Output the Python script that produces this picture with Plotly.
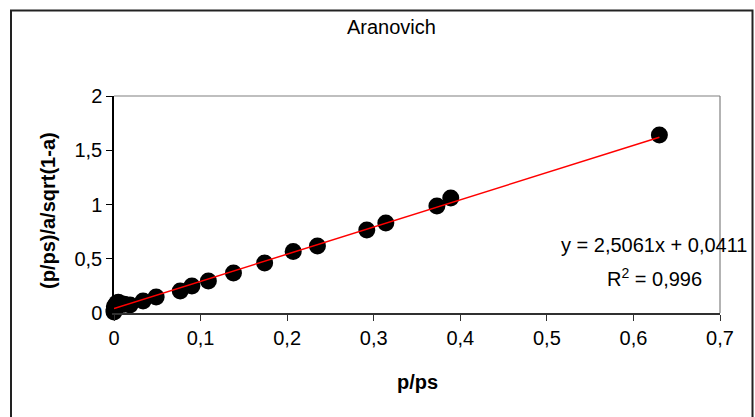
import plotly.graph_objects as go

# Measured points: relative pressure vs linearised Aranovich term
p_ps = [0.0, 0.0, 0.0005, 0.001, 0.002, 0.003, 0.004, 0.005, 0.008, 0.012,
        0.0185, 0.0336, 0.0487, 0.0765, 0.090, 0.109, 0.138, 0.174, 0.207,
        0.235, 0.292, 0.314, 0.373, 0.389, 0.630]
aranovich = [0.01, 0.03, 0.06, 0.05, 0.07, 0.09, 0.06, 0.10, 0.085, 0.08,
             0.074, 0.11, 0.147, 0.203, 0.249, 0.295, 0.369, 0.461, 0.567,
             0.617, 0.765, 0.829, 0.986, 1.06, 1.64]

# Linear trend line parameters
slope = 2.5061
intercept = 0.0411
r_squared = 0.996

x_ticks = [0, 0.1, 0.2, 0.3, 0.4, 0.5, 0.6, 0.7]
y_ticks = [0, 0.5, 1, 1.5, 2]

FONT = "Liberation Sans, Arial, sans-serif"

trend_x = [min(p_ps), max(p_ps)]
trend_y = [slope * v + intercept for v in trend_x]

fig = go.Figure()
fig.add_trace(go.Scatter(
    x=p_ps, y=aranovich, mode="markers",
    marker=dict(color="black", size=17, line=dict(width=0)),
    cliponaxis=False, showlegend=False,
))
fig.add_trace(go.Scatter(
    x=trend_x, y=trend_y, mode="lines",
    line=dict(color="#ff0000", width=1.5),
    cliponaxis=False, showlegend=False,
))

# Plot area: left 114, top 96, width 606, height 217 (px)
L, T, W, H = 114, 96, 606, 217


def px(x):
    return (x - L) / W


def py(y):
    return (T + H - y) / H


fig.update_layout(
    width=755, height=417,
    margin=dict(l=L, r=755 - L - W, t=T, b=417 - T - H),
    paper_bgcolor="white", plot_bgcolor="white",
    separators=", ",
    font=dict(family=FONT, size=20, color="black"),
    xaxis=dict(
        range=[0, 0.7], tickvals=x_ticks, showgrid=False, zeroline=False,
        showline=True, linecolor="#303030", linewidth=1.5,
        ticks="outside", ticklen=6, tickcolor="#303030", tickwidth=1,
        tickfont=dict(size=20), fixedrange=True,
    ),
    yaxis=dict(
        range=[0, 2], tickvals=y_ticks, showgrid=False, zeroline=False,
        showline=True, linecolor="black", linewidth=1.5,
        ticks="outside", ticklen=6, tickcolor="black", tickwidth=1,
        tickfont=dict(size=20), fixedrange=True,
    ),
    shapes=[
        # outer chart frame
        dict(type="rect", xref="paper", yref="paper",
             x0=px(11), x1=px(752.5), y0=py(460), y1=py(10.5),
             line=dict(color="#222222", width=2), layer="below"),
        # plot-area border (top and right)
        dict(type="line", xref="paper", yref="paper", x0=0, x1=1, y0=1, y1=1,
             line=dict(color="#808080", width=1.2)),
        dict(type="line", xref="paper", yref="paper", x0=1, x1=1, y0=0, y1=1,
             line=dict(color="#808080", width=1.2)),
    ],
    annotations=[
        dict(text="Aranovich", xref="paper", yref="paper",
             x=px(391), y=py(27), xanchor="center", yanchor="middle",
             showarrow=False, font=dict(size=20)),
        dict(text="<b>p/ps</b>", xref="paper", yref="paper",
             x=px(417), y=py(382), xanchor="center", yanchor="middle",
             showarrow=False, font=dict(size=20)),
        dict(text="<b>(p/ps)/a/sqrt(1-a)</b>", xref="paper", yref="paper",
             x=px(48), y=py(211), xanchor="center", yanchor="middle",
             textangle=-90, showarrow=False, font=dict(size=20)),
        dict(text=f"y = {slope:.4f}x + {intercept:.4f}".replace(".", ","),
             xref="paper", yref="paper",
             x=px(654), y=py(245), xanchor="center", yanchor="middle",
             showarrow=False, font=dict(size=20)),
        dict(text=f"R<sup>2</sup> = {r_squared:.3f}".replace(".", ","),
             xref="paper", yref="paper",
             x=px(654), y=py(277), xanchor="center", yanchor="middle",
             showarrow=False, font=dict(size=20)),
    ],
)

fig.write_html("out.html")
